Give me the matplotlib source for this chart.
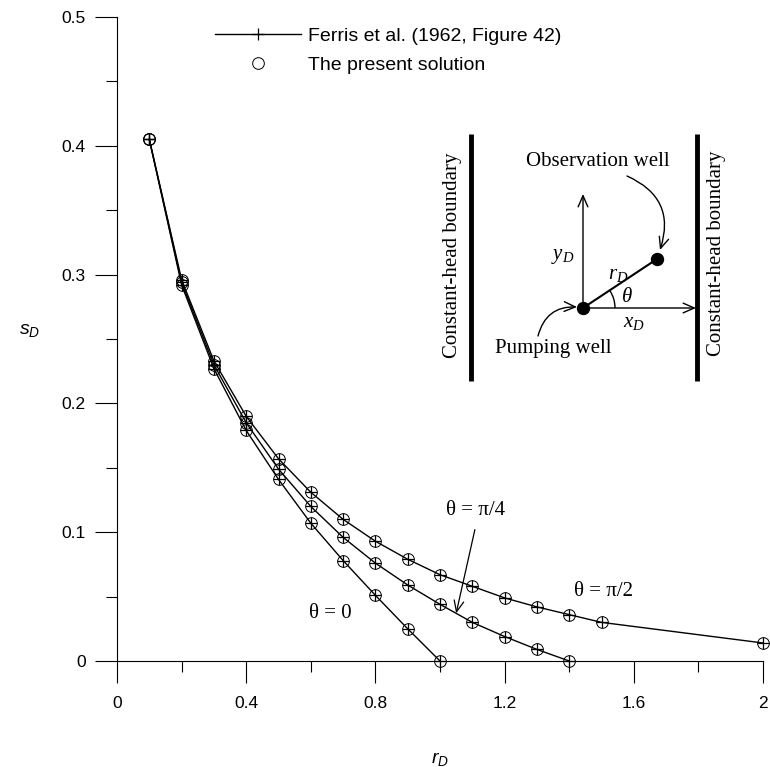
import matplotlib
matplotlib.use("Agg")
import matplotlib.pyplot as plt
from matplotlib.lines import Line2D
from matplotlib.patches import Arc

plt.rcParams['font.family'] = ['Liberation Sans', 'DejaVu Sans']
plt.rcParams['mathtext.fontset'] = 'custom'
plt.rcParams['mathtext.it'] = 'Liberation Serif:italic'
plt.rcParams['mathtext.rm'] = 'Liberation Serif'
plt.rcParams['mathtext.sf'] = 'Liberation Sans:italic'

# ---------------- data ----------------
r_theta0 = [0.1, 0.2, 0.3, 0.4, 0.5, 0.6, 0.7, 0.8, 0.9, 1.0]
s_theta0 = [0.405, 0.292, 0.227, 0.179, 0.141, 0.107, 0.078, 0.051, 0.025, 0.0]

r_theta45 = [0.1, 0.2, 0.3, 0.4, 0.5, 0.6, 0.7, 0.8, 0.9, 1.0, 1.1, 1.2, 1.3, 1.4]
s_theta45 = [0.405, 0.294, 0.230, 0.185, 0.149, 0.120, 0.096, 0.076, 0.059, 0.044,
             0.030, 0.019, 0.009, 0.0]

r_theta90 = [0.1, 0.2, 0.3, 0.4, 0.5, 0.6, 0.7, 0.8, 0.9, 1.0, 1.1, 1.2, 1.3, 1.4, 1.5, 2.0]
s_theta90 = [0.405, 0.296, 0.233, 0.190, 0.157, 0.131, 0.110, 0.093, 0.079, 0.067,
             0.058, 0.049, 0.042, 0.036, 0.030, 0.014]

series = [(r_theta0, s_theta0), (r_theta45, s_theta45), (r_theta90, s_theta90)]

x_ticks = [0, 0.4, 0.8, 1.2, 1.6, 2.0]
x_ticklabels = ['0', '0.4', '0.8', '1.2', '1.6', '2']
x_minor = [0.2, 0.6, 1.0, 1.4, 1.8]
y_ticks = [0, 0.1, 0.2, 0.3, 0.4, 0.5]
y_ticklabels = ['0', '0.1', '0.2', '0.3', '0.4', '0.5']
y_minor = [0.05, 0.15, 0.25, 0.35, 0.45]

legend_labels = ['Ferris et al. (1962, Figure 42)', 'The present solution']

W, H = 770, 767
fig = plt.figure(figsize=(W / 100, H / 100), dpi=100)
ax = fig.add_axes([117 / W, 1 - 661 / H, (763 - 117) / W, (661 - 17) / H])

for r, s in series:
    ax.plot(r, s, color='black', lw=1.0, marker='+', ms=9, mew=0.9, clip_on=False, zorder=3)
    ax.plot(r, s, ls='none', marker='o', ms=8.4, mfc='none', mec='black', mew=0.7,
            clip_on=False, zorder=4)

ax.set_xlim(0, 2)
ax.set_ylim(0, 0.5)
ax.set_xticks(x_ticks)
ax.set_xticklabels(x_ticklabels)
ax.set_xticks(x_minor, minor=True)
ax.set_yticks(y_ticks)
ax.set_yticklabels(y_ticklabels)
ax.set_yticks(y_minor, minor=True)
for sp in ['top', 'right']:
    ax.spines[sp].set_visible(False)
for sp in ['left', 'bottom']:
    ax.spines[sp].set_linewidth(0.8)
ax.tick_params(which='major', direction='out', length=15.5, width=0.8, labelsize=12.5)
ax.tick_params(axis='x', which='major', pad=10)
ax.tick_params(axis='y', which='major', pad=7)
ax.tick_params(which='minor', direction='out', length=7.8, width=0.8)

ax.set_xlabel(r'$\mathsf{r_D}$', fontsize=14)
ax.set_ylabel(r'$\mathsf{s_D}$', fontsize=14, rotation=0)
ax.xaxis.set_label_coords(0.5, -0.138)
ax.yaxis.set_label_coords(-0.135, 0.5)

# legend
h1 = Line2D([], [], color='black', lw=1.0, marker='+', ms=9, mew=0.9)
h2 = Line2D([], [], ls='none', marker='o', ms=8.4, mfc='none', mec='black', mew=0.7)
ax.legend([h1, h2], legend_labels, loc='upper left', frameon=False, fontsize=14,
          bbox_to_anchor=(215 / W, 1 - 27 / H), bbox_transform=fig.transFigure,
          borderpad=0, borderaxespad=0, handlelength=4.4, handletextpad=0.36,
          labelspacing=0.6, numpoints=1)

serif = ['Liberation Serif', 'DejaVu Serif']
ax.text(0.659, 0.037, 'θ = 0', family=serif, fontsize=15, ha='center', va='center')
ax.text(1.505, 0.0536, 'θ = π/2', family=serif, fontsize=15, ha='center', va='center')
ax.text(1.111, 0.117, 'θ = π/4', family=serif, fontsize=15, ha='center', va='center')
ax.annotate('', xy=(1.05, 0.037), xytext=(1.108, 0.102),
            arrowprops=dict(arrowstyle='->,head_length=0.8,head_width=0.35',
                            color='black', lw=0.9, mutation_scale=10,
                            shrinkA=0, shrinkB=0))

# ---------------- schematic inset (pixel coordinates) ----------------
dax = fig.add_axes([0, 0, 1, 1], facecolor='none')
dax.set_xlim(0, W)
dax.set_ylim(H, 0)
dax.axis('off')

dax.plot([471, 471], [134, 381], color='black', lw=3.5, solid_capstyle='butt')
dax.plot([697, 697], [134, 381], color='black', lw=3.5, solid_capstyle='butt')
dax.text(453, 255, 'Constant-head boundary', family=serif, fontsize=15,
         rotation=90, ha='center', va='center')
dax.text(716, 253, 'Constant-head boundary', family=serif, fontsize=15,
         rotation=90, ha='center', va='center')

px, py = 583, 308
ox, oy = 657, 259
arw = dict(arrowstyle='->,head_length=0.8,head_width=0.35', color='black', lw=1.0,
           mutation_scale=10, shrinkA=0, shrinkB=0)
dax.annotate('', xy=(px, 194), xytext=(px, py), arrowprops=arw)
dax.annotate('', xy=(696, py), xytext=(px, py), arrowprops=arw)
dax.plot([px, ox], [py, oy], color='black', lw=1.5)
dax.plot([px, ox], [py, oy], ls='none', marker='o', ms=8.6, color='black')
dax.add_patch(Arc((px, py), 64, 64, theta1=-33, theta2=0, color='black', lw=1.0))

dax.text(627, 297, 'θ', family=serif, style='italic', fontsize=15, ha='center', va='center')
dax.text(563, 256, r'$y_D$', fontsize=15, ha='center', va='center')
dax.text(618, 274, r'$r_D$', fontsize=15, ha='center', va='center')
dax.text(634, 322, r'$x_D$', fontsize=15, ha='center', va='center')
dax.text(598, 162, 'Observation well', family=serif, fontsize=15, ha='center', va='center')
dax.text(553, 348, 'Pumping well', family=serif, fontsize=15, ha='center', va='center')

dax.annotate('', xy=(660, 250), xytext=(627, 176),
             arrowprops=dict(arw, connectionstyle='arc3,rad=-0.45'))
dax.annotate('', xy=(577, 307), xytext=(538, 336),
             arrowprops=dict(arw, connectionstyle='arc3,rad=-0.4'))

fig.savefig('out.png', dpi=100)
